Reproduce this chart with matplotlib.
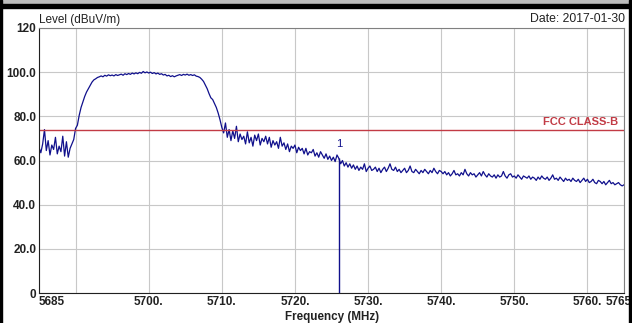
import numpy as np
import matplotlib
matplotlib.use('Agg')
import matplotlib.pyplot as plt
from matplotlib.patches import Rectangle
from matplotlib.transforms import ScaledTranslation

plt.rcParams['font.family'] = ['Liberation Sans', 'DejaVu Sans']

# sweep readings, 0.25 MHz apart from 5685 to 5765 MHz
level = [
    # 5685 - 5689.75
    66.0, 63.5, 67.5, 74.0, 64.5, 69.0, 62.5, 67.0, 65.0, 70.5,
    63.0, 66.5, 64.0, 71.0, 62.0, 68.5, 61.5, 65.5, 67.5, 69.5,
    # 5690 - 5694.75
    74.5, 76.0, 80.5, 84.0, 86.5, 89.0, 91.0, 92.5, 94.0, 95.5,
    96.5, 97.0, 97.6, 97.9, 98.3, 97.9, 98.6, 98.2, 98.8, 98.4,
    # 5695 - 5706.75
    98.7, 98.3, 98.9, 98.5, 98.8, 99.1, 98.6, 99.3, 98.9, 99.4, 99.0, 99.6,
    99.2, 99.7, 99.3, 99.9, 99.5, 100.3, 99.7, 100.1, 99.6, 100.0, 99.4, 99.8,
    99.2, 99.6, 99.0, 99.3, 98.7, 99.0, 98.3, 98.6, 98.0, 98.4, 97.9, 98.3,
    98.6, 98.9, 98.5, 99.0, 98.7, 99.1, 98.6, 98.9, 98.5, 98.8, 98.2, 98.0,
    # 5707 - 5710
    97.6, 96.8, 95.8, 94.2, 92.5, 90.3, 88.4, 87.6, 85.8, 84.0, 81.5, 78.5, 75.0,
    # 5710.25 - 5716
    72.5, 77.0, 70.5, 74.0, 69.0, 73.5, 70.0, 75.5, 68.5, 72.0, 69.5, 71.0,
    67.5, 73.0, 68.0, 70.5, 66.5, 71.5, 69.0, 72.0, 67.0, 70.0, 68.5, 71.0,
    # 5716.25 - 5726
    67.5, 70.5, 66.0, 69.0, 67.0, 68.5, 65.5, 70.5, 66.5, 68.0,
    65.0, 67.5, 64.0, 66.5, 65.5, 67.0, 63.5, 66.0, 64.5, 65.5,
    63.0, 65.5, 62.5, 64.0, 63.5, 65.0, 62.0, 63.5, 61.5, 64.0,
    62.5, 61.0, 63.0, 60.5, 62.0, 60.0, 61.5, 59.5, 62.5, 61.0,
    # 5726.25 - 5740
    58.5, 60.0, 57.5, 59.0, 57.0, 58.5, 56.5, 58.0, 56.0, 57.5,
    55.5, 57.0, 56.0, 58.5, 55.0, 56.5, 57.5, 55.5, 56.0, 57.0,
    55.0, 56.5, 54.5, 56.0, 57.0, 55.0, 56.5, 58.5, 56.0, 55.5,
    57.0, 55.0, 56.0, 54.5, 55.5, 56.5, 54.5, 55.5, 57.5, 55.0,
    54.5, 56.0, 55.0, 54.0, 55.5, 54.5, 56.0, 55.0, 54.0, 55.5,
    54.5, 56.5, 55.0, 54.0, 55.5, 55.0,
    # 5740.25 - 5751.75
    54.0, 55.0, 53.5, 54.5, 53.0, 54.0, 55.5, 53.5, 54.0, 53.0,
    54.5, 53.5, 56.0, 54.0, 53.0, 54.5, 53.5, 54.0, 52.5, 53.5,
    54.5, 53.0, 55.0, 53.5, 52.5, 54.0, 53.0, 52.5, 53.5, 52.0,
    53.5, 52.5, 53.0, 55.0, 53.0, 52.0, 53.5, 54.0, 52.5, 53.0,
    52.0, 53.5, 52.5, 51.5, 53.0, 52.5, 52.0,
    # 5752 - 5765
    53.0, 51.5, 52.5, 52.0, 51.0, 52.5, 51.5, 53.0, 52.0, 51.5,
    52.5, 51.0, 52.0, 53.5, 51.5, 52.0, 51.0, 52.5, 51.5, 50.5,
    52.0, 51.0, 51.5, 50.5, 52.0, 51.0, 50.5, 51.5, 50.0, 51.0,
    52.0, 50.5, 51.5, 50.0, 50.5, 51.5, 50.0, 49.5, 51.0, 50.5,
    49.5, 50.5, 49.0, 50.0, 51.0, 49.5, 50.0, 49.0, 49.5, 50.0,
    49.0, 48.5, 49.0,
]
freq = np.linspace(5685, 5765, len(level))

limit_level = 74.0
limit_name = 'FCC CLASS-B'
marker_freq = 5726.0
marker_level = 61.0

x_ticks = [5685, 5690, 5700, 5710, 5720, 5730, 5740, 5750, 5760, 5765]
x_labels = ['5685', '', '5700.', '5710.', '5720.', '5730.', '5740.', '5750.', '5760.', '5765']
y_ticks = [0, 20, 40, 60, 80, 100, 120]
y_labels = ['0', '20.0', '40.0', '60.0', '80.0', '100.0', '120']

W, H = 632, 323
fig = plt.figure(figsize=(W / 100, H / 100), dpi=100)
ax = fig.add_axes([39 / W, 30 / H, 585 / W, 265 / H])

trace_col = '#10108c'
red = '#c23b45'

ax.plot(freq, level, color=trace_col, lw=0.9)
ax.axhline(limit_level, color=red, lw=1.0)
ax.text(5764.2, limit_level + 1.0, limit_name, color=red, fontsize=8,
        fontweight='bold', ha='right', va='bottom')
ax.vlines(marker_freq, 0, marker_level, color=trace_col, lw=1.0)
ax.text(marker_freq, marker_level + 4, '1', color=trace_col, fontsize=8,
        ha='center', va='bottom')

ax.set_xlim(5685, 5765)
ax.set_ylim(0, 120)
ax.set_xticks(x_ticks)
ax.set_xticklabels(x_labels, fontsize=8.5, fontweight='bold')
ax.set_yticks(y_ticks)
ax.set_yticklabels(y_labels, fontsize=8.5, fontweight='bold')
ax.tick_params(length=0, pad=2, colors='#222222')
labs = ax.get_xticklabels()
labs[0].set_ha('left')
labs[-1].set_ha('right')
labs[-1].set_transform(labs[-1].get_transform() + ScaledTranslation(8 / 100, 0, fig.dpi_scale_trans))

ax.grid(True, color='#c8c8c8', lw=0.8)
ax.set_axisbelow(True)
for s in ['left', 'bottom']:
    ax.spines[s].set_color('#202020')
for s in ['top', 'right']:
    ax.spines[s].set_color('#808080')

fig.text(39 / W, 1 - 20 / H, 'Level (dBuV/m)', fontsize=8.5, va='center', ha='left', color='#222222')
fig.text(625 / W, 1 - 19 / H, 'Date: 2017-01-30', fontsize=8.8, va='center', ha='right', color='#222222')
fig.text(332 / W, 1 - 317 / H, 'Frequency (MHz)', fontsize=8.4, fontweight='bold',
         va='center', ha='center', color='#222222')

# screenshot border bands
fig.patches.append(Rectangle((0, 1 - 4 / H), 1, 4 / H, transform=fig.transFigure, color='#bcbcbc'))
fig.patches.append(Rectangle((0, 1 - 8 / H), 1, 4 / H, transform=fig.transFigure, color='#000000'))
fig.patches.append(Rectangle((0, 0), 1.5 / W, 1, transform=fig.transFigure, color='#000000'))
fig.patches.append(Rectangle((1 - 3 / W, 0), 3 / W, 1, transform=fig.transFigure, color='#000000'))

fig.savefig('out.png', dpi=100)
